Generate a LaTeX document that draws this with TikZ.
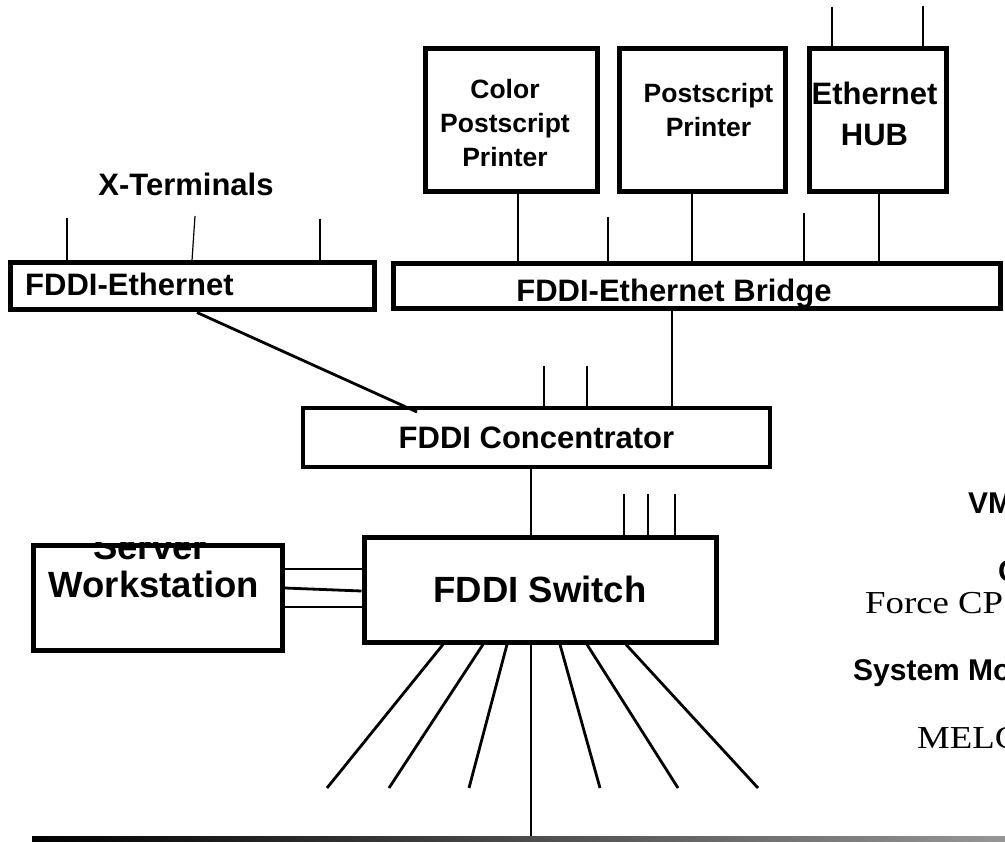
\documentclass[tikz,border=0pt]{standalone}
\usepackage{fontspec}
\setmainfont{Liberation Sans}
\newfontfamily\serfont[FakeStretch=1.15]{Liberation Serif}
\usetikzlibrary{positioning}
\definecolor{busgray}{RGB}{150,150,150}

\begin{document}
\begin{tikzpicture}[x=1pt, y=-1pt,
    box/.style={draw, line width=5pt, inner sep=0pt},
    lbl/.style={font=\bfseries\fontsize{31}{41}\selectfont, inner sep=0pt, align=center},
    prnlbl/.style={font=\bfseries\fontsize{26.5}{34}\selectfont, inner sep=0pt, align=center},
    biglbl/.style={font=\bfseries\fontsize{36.5}{37}\selectfont, inner sep=0pt},
    sidelbl/.style={font=\bfseries\fontsize{30}{36}\selectfont, inner sep=0pt, anchor=base west},
    serlbl/.style={font=\serfont\fontsize{32}{36}\selectfont, inner sep=0pt, anchor=base west},
    wire/.style={line width=2pt},
    fatwire/.style={line width=2.8pt},
    stub/.style={line width=1.2pt}]
    \useasboundingbox (0,0) rectangle (1005,842);
    \clip (0,0) rectangle (1005,842);

    \node[box, minimum width=172pt, minimum height=143pt] (cpp) at (511,120.5) {};
    \node[box, minimum width=166pt, minimum height=143pt] (psp) at (702,120.5) {};
    \node[box, minimum width=137pt, minimum height=143pt] (hub) at (877.5,120.5) {};
    \node[prnlbl] (cpptxt) at (505,123) {Color\\Postscript\\Printer};
    \node[prnlbl] (psptxt) at (708.5,110) {Postscript\\Printer};
    \node[lbl] (hubtxt) at (874.5,114) {Ethernet\\HUB};
    \foreach \x/\y in {832/7, 923/6} \draw[stub] (\x,\y) -- (\x,0 |- hub.north);

    \node[box, minimum width=607pt, minimum height=45pt] (bridge) at (696.5,286.5) {};
    \node[lbl] (bridgetxt) at (674,294) {FDDI-Ethernet Bridge};
    \draw[wire] (518,0 |- cpp.south) -- (518,0 |- bridge.north);
    \draw[wire] (692,0 |- psp.south) -- (692,0 |- bridge.north);
    \draw[wire] (879,0 |- hub.south) -- (879,0 |- bridge.north);
    \foreach \x/\y in {608/217, 804/213} \draw[stub] (\x,\y) -- (\x,0 |- bridge.north);

    \node[box, minimum width=364pt, minimum height=47pt] (fe) at (192,286.5) {};
    \node[lbl, anchor=west] (fetxt) at (25,284) {FDDI-Ethernet};
    \node[lbl] (xterm) at (186,184) {X-Terminals};
    \foreach \x/\y in {67/218, 320/219} \draw[stub] (\x,\y) -- (\x,0 |- fe.north);
    \draw[stub] (195,216) -- (192,0 |- fe.north);

    \node[box, line width=4.5pt, minimum width=467pt, minimum height=59pt, lbl] (conc) at (536.5,437.5) {FDDI Concentrator};
    \draw[fatwire] (197,0 |- fe.south) -- (417,412);
    \draw[wire] (672,0 |- bridge.south) -- (672,0 |- conc.north);
    \foreach \x in {544,587} \draw[stub] (\x,366) -- (\x,0 |- conc.north);

    \node[box, minimum width=352pt, minimum height=105pt, biglbl] (sw) at (540,589.5) {FDDI Switch};
    \draw[wire] (531,0 |- conc.south) -- (531,0 |- sw.north);
    \foreach \x in {624,648,675} \draw[stub] (\x,494) -- (\x,0 |- sw.north);

    \node[box, minimum width=249pt, minimum height=105pt] (srv) at (157.5,597.5) {};
    \node[biglbl] (wstxt) at (154,584) {Workstation};
    \begin{scope}
      \clip (srv.north west) rectangle (srv.south east);
      \node[biglbl] (srvtxt) at (150,547) {Server};
    \end{scope}
    \foreach \ya/\yb in {569/569, 588/591, 607/607} \draw[fatwire] (srv.east |- 0,\ya) -- (sw.west |- 0,\yb);

    \foreach \a/\b [count=\i] in {443/327, 483/389, 507/469, 560/600, 587/678, 626/758} {
      \coordinate (fan\i) at (\b,788);
      \draw[fatwire] (\a,0 |- sw.south) -- (fan\i);
    }
    \shade[left color=black, right color=busgray] (32,836) rectangle (1005,842);
    \coordinate (bus) at (531,836);
    \draw[wire] (531,0 |- sw.south) -- (bus);

    \node[sidelbl] (vme) at (968,514) {VM};
    \node[sidelbl] (cpu) at (998,581) {C};
    \node[serlbl] (force) at (865,613) {Force CP};
    \node[sidelbl] (sysmod) at (853,680) {System Mo};
    \node[serlbl] (melco) at (917,748) {MELC};
\end{tikzpicture}
\end{document}
